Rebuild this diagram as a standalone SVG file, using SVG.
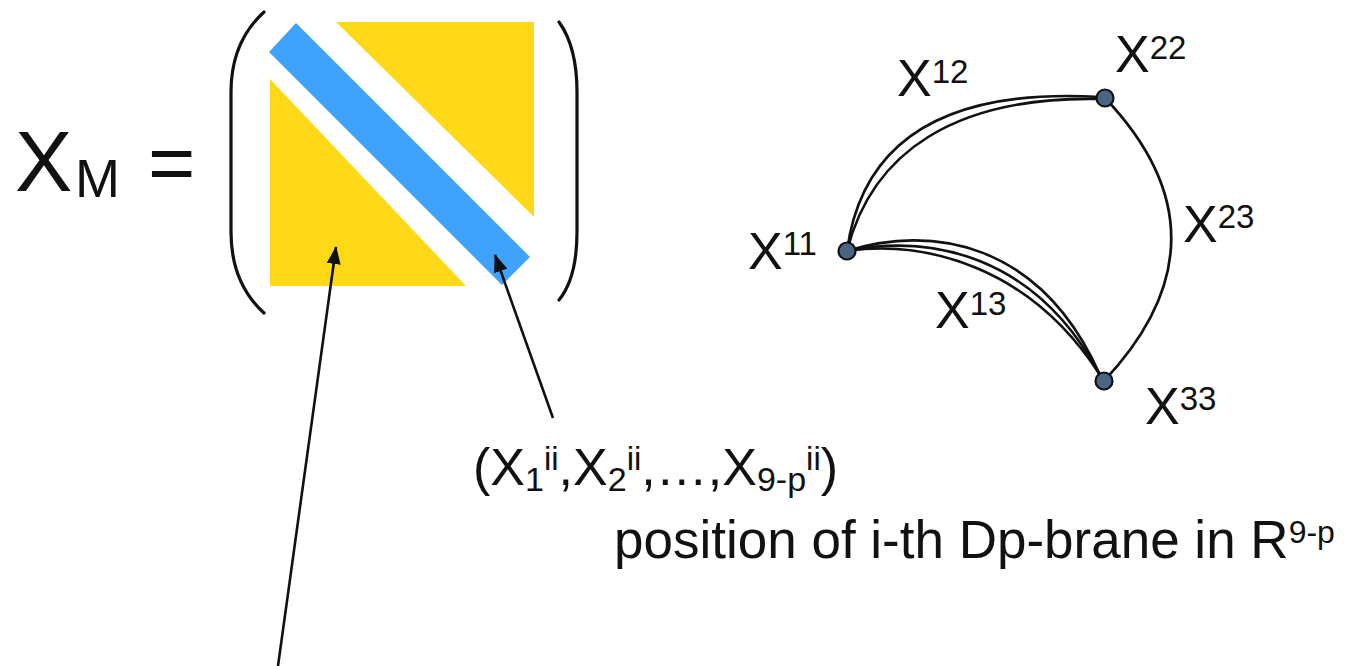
<svg xmlns="http://www.w3.org/2000/svg" width="1362" height="666" viewBox="0 0 1362 666">
<style>
text{font-family:"Liberation Sans",Arial,sans-serif;fill:#111}
.lbl{font-size:52px}
.sup{font-size:33px}
.edge{fill:none;stroke:#111;stroke-width:2.6}
.paren{fill:none;stroke:#111;stroke-width:3.2;stroke-linecap:round}
.ptr{fill:none;stroke:#111;stroke-width:2.6}
.node{fill:#4b6685;stroke:#111;stroke-width:2.2}
</style>
<defs>
<marker id="ah" markerUnits="userSpaceOnUse" markerWidth="18" markerHeight="14" refX="17" refY="7" orient="auto">
<path d="M0,0 L18,7 L0,14 z" fill="#111"/>
</marker>
</defs>
<rect width="1362" height="666" fill="#fff"/>

<g id="formula">
<text x="15" y="191" style="font-size:86px">X</text>
<text x="75" y="197" style="font-size:54px">M</text>
<text x="148" y="191" style="font-size:81px">=</text>
</g>

<g id="matrix">
<path class="paren" d="M264,12 C241,33 231,60 231,92 L231,232 C231,264 241,292 264,313"/>
<path class="paren" d="M559,22 C572,40 577,62 577,92 L577,232 C577,262 572,284 559,300"/>
<polygon points="336,22 534,22 534,217" fill="#ffd918"/>
<polygon points="270,79 270,286 466,286" fill="#ffd918"/>
<polygon points="296,23 269,52 502,285 530,257" fill="#3fa3fb"/>
</g>

<g id="pointers">
<line class="ptr" x1="278" y1="666" x2="336" y2="247" marker-end="url(#ah)"/>
<line class="ptr" x1="553" y1="418" x2="495" y2="255" marker-end="url(#ah)"/>
</g>

<g id="coords">
<text x="473" y="485" style="font-size:52px">(X<tspan style="font-size:34px" dy="6">1</tspan><tspan style="font-size:33px" dy="-21">ii</tspan><tspan dy="15">,X</tspan><tspan style="font-size:34px" dy="6">2</tspan><tspan style="font-size:33px" dy="-21">ii</tspan><tspan dy="15">,…,X</tspan><tspan style="font-size:34px" dy="6">9-p</tspan><tspan style="font-size:33px" dy="-21">ii</tspan><tspan dy="15">)</tspan></text>
<text x="614" y="558" style="font-size:53px">position of i-th Dp-brane in R<tspan style="font-size:32px" dy="-15">9-p</tspan></text>
</g>

<g id="connectors">
<path class="edge" d="M847,251 C862,140 945,88 1100,97"/>
<path class="edge" d="M847,251 C872,152 955,96 1100,99"/>
<path class="edge" d="M847,251 C930,225 1040,240 1100,375"/>
<path class="edge" d="M847,251 C930,234 1035,254 1100,375"/>
<path class="edge" d="M847,251 C925,240 1030,266 1100,375"/>
<path class="edge" d="M1105,98 Q1238,238 1104,381"/>
</g>

<g id="node-x11">
<circle class="node" cx="847" cy="251" r="8.5"/>
<text class="lbl" x="748" y="269">X<tspan class="sup" dy="-14">11</tspan></text>
</g>
<g id="node-x22">
<circle class="node" cx="1105" cy="98" r="8.5"/>
<text class="lbl" x="1115" y="72">X<tspan class="sup" dy="-13">22</tspan></text>
</g>
<g id="node-x33">
<circle class="node" cx="1104" cy="381" r="8.5"/>
<text class="lbl" x="1145" y="424">X<tspan class="sup" dy="-14">33</tspan></text>
</g>
<g id="label-x12">
<text class="lbl" x="897" y="96">X<tspan class="sup" dy="-13">12</tspan></text>
</g>
<g id="label-x13">
<text class="lbl" x="935" y="328">X<tspan class="sup" dy="-13">13</tspan></text>
</g>
<g id="label-x23">
<text class="lbl" x="1183" y="242">X<tspan class="sup" dy="-14">23</tspan></text>
</g>
</svg>
